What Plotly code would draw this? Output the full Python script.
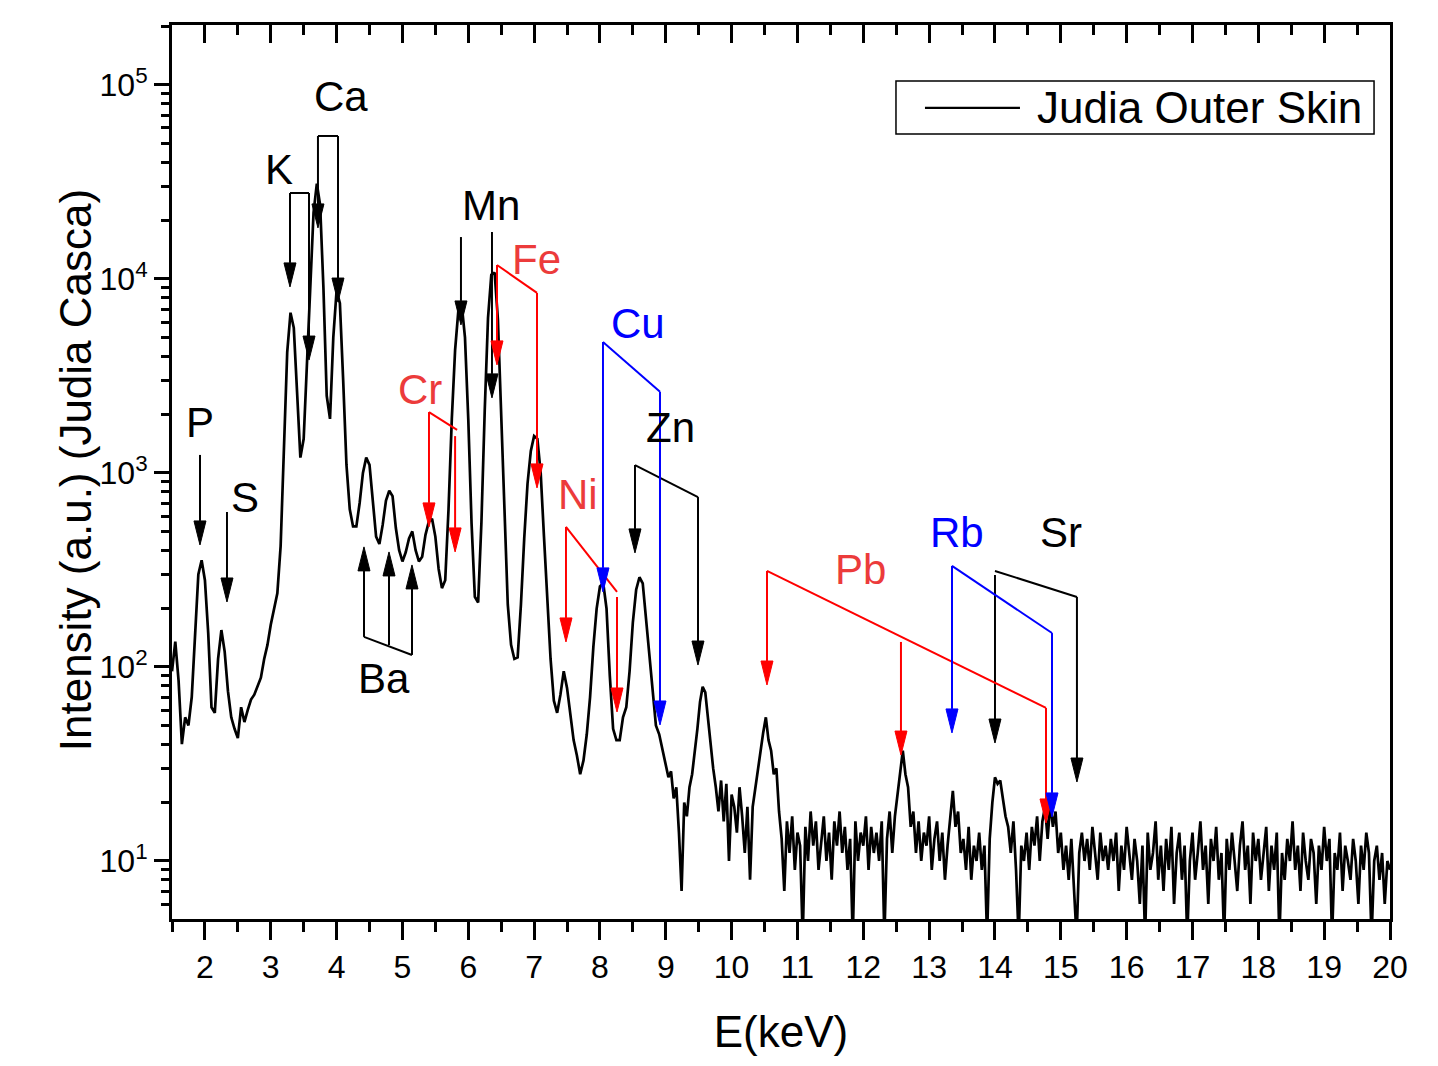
import numpy as np
import plotly.graph_objects as go

# ---------------- spectrum data ----------------
# channels 1.50 .. 8.95 keV, step 0.05 keV
low_start, low_step = 1.50, 0.05
counts_low = [
    95, 135, 85, 40, 55, 50, 70, 140, 300, 355,            # 1.50
    280, 150, 62, 58, 110, 155, 120, 75, 55, 48,           # 2.00
    43, 62, 52, 60, 68, 72, 80, 88, 110, 130,              # 2.50
    165, 200, 240, 420, 1500, 4200, 6700, 5600, 2600, 1200,  # 3.00
    1500, 3600, 9500, 22000, 31000, 24000, 9000, 2500, 1900, 5000,  # 3.50
    8700, 7500, 3000, 1100, 650, 530, 530, 700, 1000, 1200,  # 4.00
    1100, 700, 470, 430, 540, 720, 810, 760, 520, 400,     # 4.50
    350, 390, 460, 500, 400, 350, 370, 480, 560, 580,      # 5.00
    470, 320, 255, 280, 650, 1900, 4300, 6900, 7400, 5000,  # 5.50
    1900, 550, 230, 215, 560, 2100, 6300, 10500, 10800, 6200,  # 6.00
    1900, 550, 210, 130, 110, 112, 210, 460, 880, 1300,    # 6.50
    1550, 1500, 1000, 470, 210, 110, 67, 58, 72, 95,       # 7.00
    78, 55, 42, 35, 28, 33, 45, 70, 127, 200,              # 7.50
    260, 270, 200, 90, 48, 42, 42, 55, 62, 95,             # 8.00
    170, 250, 290, 270, 180, 110, 74, 50, 45, 38,          # 8.50
]
# channels 9.00 .. 20.00 keV, step 0.04 keV
high_start, high_step = 9.00, 0.04
counts_high = [
    32, 27, 29, 21, 24, 14, 7, 20, 17, 24,     # 9.00
    28, 36, 48, 66, 79, 74, 55, 38, 30, 24,    # 9.40
    18, 26, 16, 25, 10, 22, 19, 14, 24, 17,    # 9.80
    11, 19, 8, 19, 24, 30, 36, 46, 55, 42,     # 10.20
    37, 28, 30, 18, 13, 7, 16, 11, 17, 9,      # 10.60
    14, 12, 4, 15, 10, 18, 12, 16, 9, 13,      # 11.00
    17, 10, 14, 8, 16, 12, 18, 11, 15, 9,      # 11.40
    13, 4, 16, 10, 14, 12, 17, 9, 15, 11,      # 11.80
    14, 10, 16, 4, 13, 18, 11, 17, 22, 30,     # 12.20
    37, 28, 24, 15, 18, 11, 16, 10, 14, 12,    # 12.60
    17, 9, 13, 16, 10, 14, 8, 12, 17, 23,      # 13.00
    15, 18, 11, 13, 9, 15, 8, 12, 10, 14,      # 13.40
    9, 12, 4, 13, 20, 27, 25, 26, 21, 17,      # 13.80
    15, 11, 16, 9, 4, 12, 10, 14, 9, 15,       # 14.20
    12, 17, 10, 16, 19, 13, 20, 15, 18, 11,    # 14.60
    14, 9, 12, 8, 13, 7, 4, 11, 14, 10,        # 15.00
    13, 9, 15, 11, 8, 14, 10, 12, 9, 13,       # 15.40
    10, 14, 7, 12, 9, 15, 11, 8, 13, 10,       # 15.80
    6, 12, 4, 14, 9, 11, 16, 8, 12, 7,         # 16.20
    13, 9, 15, 6, 11, 14, 8, 12, 4, 10,        # 16.60
    14, 8, 11, 16, 9, 12, 6, 13, 10, 15,       # 17.00
    8, 11, 4, 13, 9, 14, 10, 7, 12, 16,        # 17.40
    9, 12, 6, 14, 10, 13, 8, 11, 15, 7,        # 17.80
    12, 9, 14, 4, 11, 8, 13, 10, 16, 9,        # 18.20
    12, 7, 14, 10, 8, 13, 11, 6, 12, 9,        # 18.60
    15, 10, 13, 4, 11, 9, 14, 7, 12, 10,       # 19.00
    8, 13, 10, 6, 12, 9, 14, 11, 4, 10,        # 19.40
    12, 8, 11, 6, 10, 9,                       # 19.80
]

energy = list(np.round(low_start + low_step * np.arange(len(counts_low)), 3)) + \
         list(np.round(high_start + high_step * np.arange(len(counts_high)), 3))
counts = counts_low + counts_high
series_name = "Judia Outer Skin"

# axis ticks
x_range = [1.5, 20]
y_range_log = [0.701, 5.309]
y_tickvals = [10, 100, 1000, 10000, 100000]
y_ticktext = ["10<sup>1</sup>", "10<sup>2</sup>", "10<sup>3</sup>", "10<sup>4</sup>", "10<sup>5</sup>"]

# ---------------- peak labels (energy keV, log10 intensity) ----------------
RED_LINE, RED_TEXT, BLUE, BLACK = "#ff0000", "#ec3b3b", "#0000ff", "#000000"
elements = [
    dict(name="P",  line=BLACK, text=BLACK, label=(1.925, 3.258),
         arrows=[(1.925, 3.093, 2.629)], bracket=None),
    dict(name="S",  line=BLACK, text=BLACK, label=(2.609, 2.876),
         arrows=[(2.335, 2.799, 2.335)], bracket=None),
    dict(name="K",  line=BLACK, text=BLACK, label=(3.125, 4.562),
         arrows=[(3.292, 4.443, 3.959), (3.581, 4.443, 3.582)],
         bracket=[(3.292, 4.443), (3.581, 4.443)]),
    dict(name="Ca", line=BLACK, text=BLACK, label=(4.067, 4.938),
         arrows=[(3.717, 4.737, 4.263), (4.021, 4.737, 3.881)],
         bracket=[(3.717, 4.737), (4.021, 4.737)]),
    dict(name="Mn", line=BLACK, text=BLACK, label=(6.345, 4.381),
         arrows=[(5.889, 4.216, 3.763), (6.360, 4.242, 3.387)], bracket=None),
    dict(name="Fe", line=RED_LINE, text=RED_TEXT, label=(7.029, 4.098),
         arrows=[(6.436, 4.072, 3.557), (7.044, 3.928, 2.923)],
         bracket=[(6.436, 4.072), (7.044, 3.928)]),
    dict(name="Cr", line=RED_LINE, text=RED_TEXT, label=(5.267, 3.428),
         arrows=[(5.403, 3.314, 2.722), (5.800, 3.190, 2.593)],
         bracket=[(5.403, 3.314), (5.830, 3.222)]),
    dict(name="Ni", line=RED_LINE, text=RED_TEXT, label=(7.666, 2.887),
         arrows=[(7.484, 2.722, 2.129), (8.259, 2.361, 1.768)],
         bracket=[(7.484, 2.722), (8.259, 2.387)]),
    dict(name="Cu", line=BLUE, text=BLUE, label=(8.578, 3.773),
         arrows=[(8.046, 3.675, 2.387), (8.912, 3.418, 1.701)],
         bracket=[(8.046, 3.675), (8.912, 3.418)]),
    dict(name="Zn", line=BLACK, text=BLACK, label=(9.064, 3.232),
         arrows=[(8.532, 3.041, 2.588), (9.489, 2.876, 2.010)],
         bracket=[(8.532, 3.041), (9.489, 2.876)]),
    dict(name="Ba", line=BLACK, text=BLACK, label=(4.720, 1.943),
         arrows=[(4.416, 2.155, 2.619), (4.796, 2.113, 2.593), (5.145, 2.062, 2.526)],
         bracket=[(4.416, 2.155), (5.145, 2.062)]),
    dict(name="Pb", line=RED_LINE, text=RED_TEXT, label=(11.95, 2.500),
         arrows=[(10.537, 2.495, 1.907), (12.572, 2.129, 1.546), (14.775, 1.789, 1.196)],
         bracket=[(10.537, 2.495), (14.775, 1.789)]),
    dict(name="Rb", line=BLUE, text=BLUE, label=(13.423, 2.691),
         arrows=[(13.347, 2.521, 1.660), (14.866, 2.175, 1.227)],
         bracket=[(13.347, 2.521), (14.866, 2.175)]),
    dict(name="Sr", line=BLACK, text=BLACK, label=(15.002, 2.691),
         arrows=[(14.000, 2.474, 1.608), (15.245, 2.361, 1.407)],
         bracket=[(14.000, 2.495), (15.245, 2.361)]),
]

FONT = "Liberation Sans, Arial, Helvetica, sans-serif"
HEAD_HALF_W = 6 / 65.84     # keV  (~6 px)
HEAD_LEN = 24 / 194.0       # decades (~24 px)

fig = go.Figure()
fig.add_trace(go.Scatter(x=energy, y=counts, mode="lines", name=series_name,
                         line=dict(color="black", width=2.7), showlegend=False))
# invisible trace to activate the top axis
fig.add_trace(go.Scatter(x=x_range, y=[10, 10], xaxis="x2", mode="lines",
                         line=dict(width=0), opacity=0, showlegend=False, hoverinfo="skip"))

annotations = []
for color in [BLACK, RED_LINE, BLUE]:
    lx, ly, tx, ty = [], [], [], []
    for e in elements:
        if e["line"] != color:
            continue
        if e["bracket"]:
            for (bx, by) in e["bracket"]:
                lx.append(bx); ly.append(10 ** by)
            lx.append(None); ly.append(None)
        for (ax_, y0, y1) in e["arrows"]:
            d = 1 if y1 > y0 else -1
            base = y1 - d * HEAD_LEN
            lx += [ax_, ax_, None]
            ly += [10 ** y0, 10 ** base, None]
            tx += [ax_ - HEAD_HALF_W, ax_ + HEAD_HALF_W, ax_, ax_ - HEAD_HALF_W, None]
            ty += [10 ** base, 10 ** base, 10 ** y1, 10 ** base, None]
    fig.add_trace(go.Scatter(x=lx, y=ly, mode="lines", line=dict(color=color, width=2),
                             showlegend=False, hoverinfo="skip"))
    fig.add_trace(go.Scatter(x=tx, y=ty, mode="lines", fill="toself", fillcolor=color,
                             line=dict(color=color, width=1), showlegend=False, hoverinfo="skip"))

for e in elements:
    annotations.append(dict(x=e["label"][0], y=e["label"][1], xref="x", yref="y",
                            text=e["name"], showarrow=False, xanchor="center", yanchor="middle",
                            font=dict(family=FONT, size=42, color=e["text"])))

# y-axis title
annotations.append(dict(x=-0.0796, y=0.502, xref="paper", yref="paper",
                        xanchor="center", yanchor="middle",
                        text="Intensity (a.u.) (Judia Casca)", textangle=-90,
                        showarrow=False, font=dict(family=FONT, size=44, color="black")))

# legend box (drawn in paper coordinates)
LEG = dict(x0=0.5944, x1=0.9869, y0=0.8781, y1=0.9374, line_x0=0.6182, line_x1=0.6962,
           mid=0.9072, text_x=0.7085)
shapes = [
    dict(type="rect", xref="paper", yref="paper", x0=LEG["x0"], x1=LEG["x1"],
         y0=LEG["y0"], y1=LEG["y1"], line=dict(color="black", width=1.5), fillcolor="white",
         layer="above"),
    dict(type="line", xref="paper", yref="paper", x0=LEG["line_x0"], x1=LEG["line_x1"],
         y0=LEG["mid"], y1=LEG["mid"], line=dict(color="black", width=2.2), layer="above"),
]
annotations.append(dict(x=LEG["text_x"], y=LEG["mid"], xref="paper", yref="paper",
                        xanchor="left", yanchor="middle", text=series_name, showarrow=False,
                        font=dict(family=FONT, size=44, color="black")))

fig.update_layout(
    width=1438, height=1066,
    margin=dict(l=172, r=48, t=25, b=147),
    paper_bgcolor="white", plot_bgcolor="white",
    font=dict(family=FONT, color="black"),
    showlegend=False,
    annotations=annotations,
    shapes=shapes,
    xaxis=dict(range=x_range, dtick=1, tick0=0, showgrid=False, zeroline=False,
               showline=True, linecolor="black", linewidth=3, mirror=True,
               ticks="outside", ticklen=18, tickwidth=3, tickcolor="black",
               minor=dict(dtick=0.5, tick0=0, ticks="outside", ticklen=10,
                          tickwidth=3, tickcolor="black", showgrid=False),
               tickfont=dict(family=FONT, size=32),
               title=dict(text="E(keV)", font=dict(family=FONT, size=44), standoff=32)),
    xaxis2=dict(range=x_range, overlaying="x", side="top", anchor="y",
                dtick=1, tick0=0, showgrid=False, zeroline=False, showline=False,
                ticks="inside", ticklen=18, tickwidth=3, tickcolor="black",
                showticklabels=False,
                minor=dict(dtick=0.5, tick0=0, ticks="inside", ticklen=10,
                           tickwidth=3, tickcolor="black", showgrid=False)),
    yaxis=dict(type="log", range=y_range_log, showgrid=False, zeroline=False,
               showline=True, linecolor="black", linewidth=3, mirror=True,
               tickmode="array", tickvals=y_tickvals, ticktext=y_ticktext,
               ticks="outside", ticklen=15, tickwidth=3, tickcolor="black",
               minor=dict(ticks="outside", ticklen=8, tickwidth=2.5, tickcolor="black",
                          dtick="D1", showgrid=False),
               tickfont=dict(family=FONT, size=32)),
)

fig.write_html("out.html")
